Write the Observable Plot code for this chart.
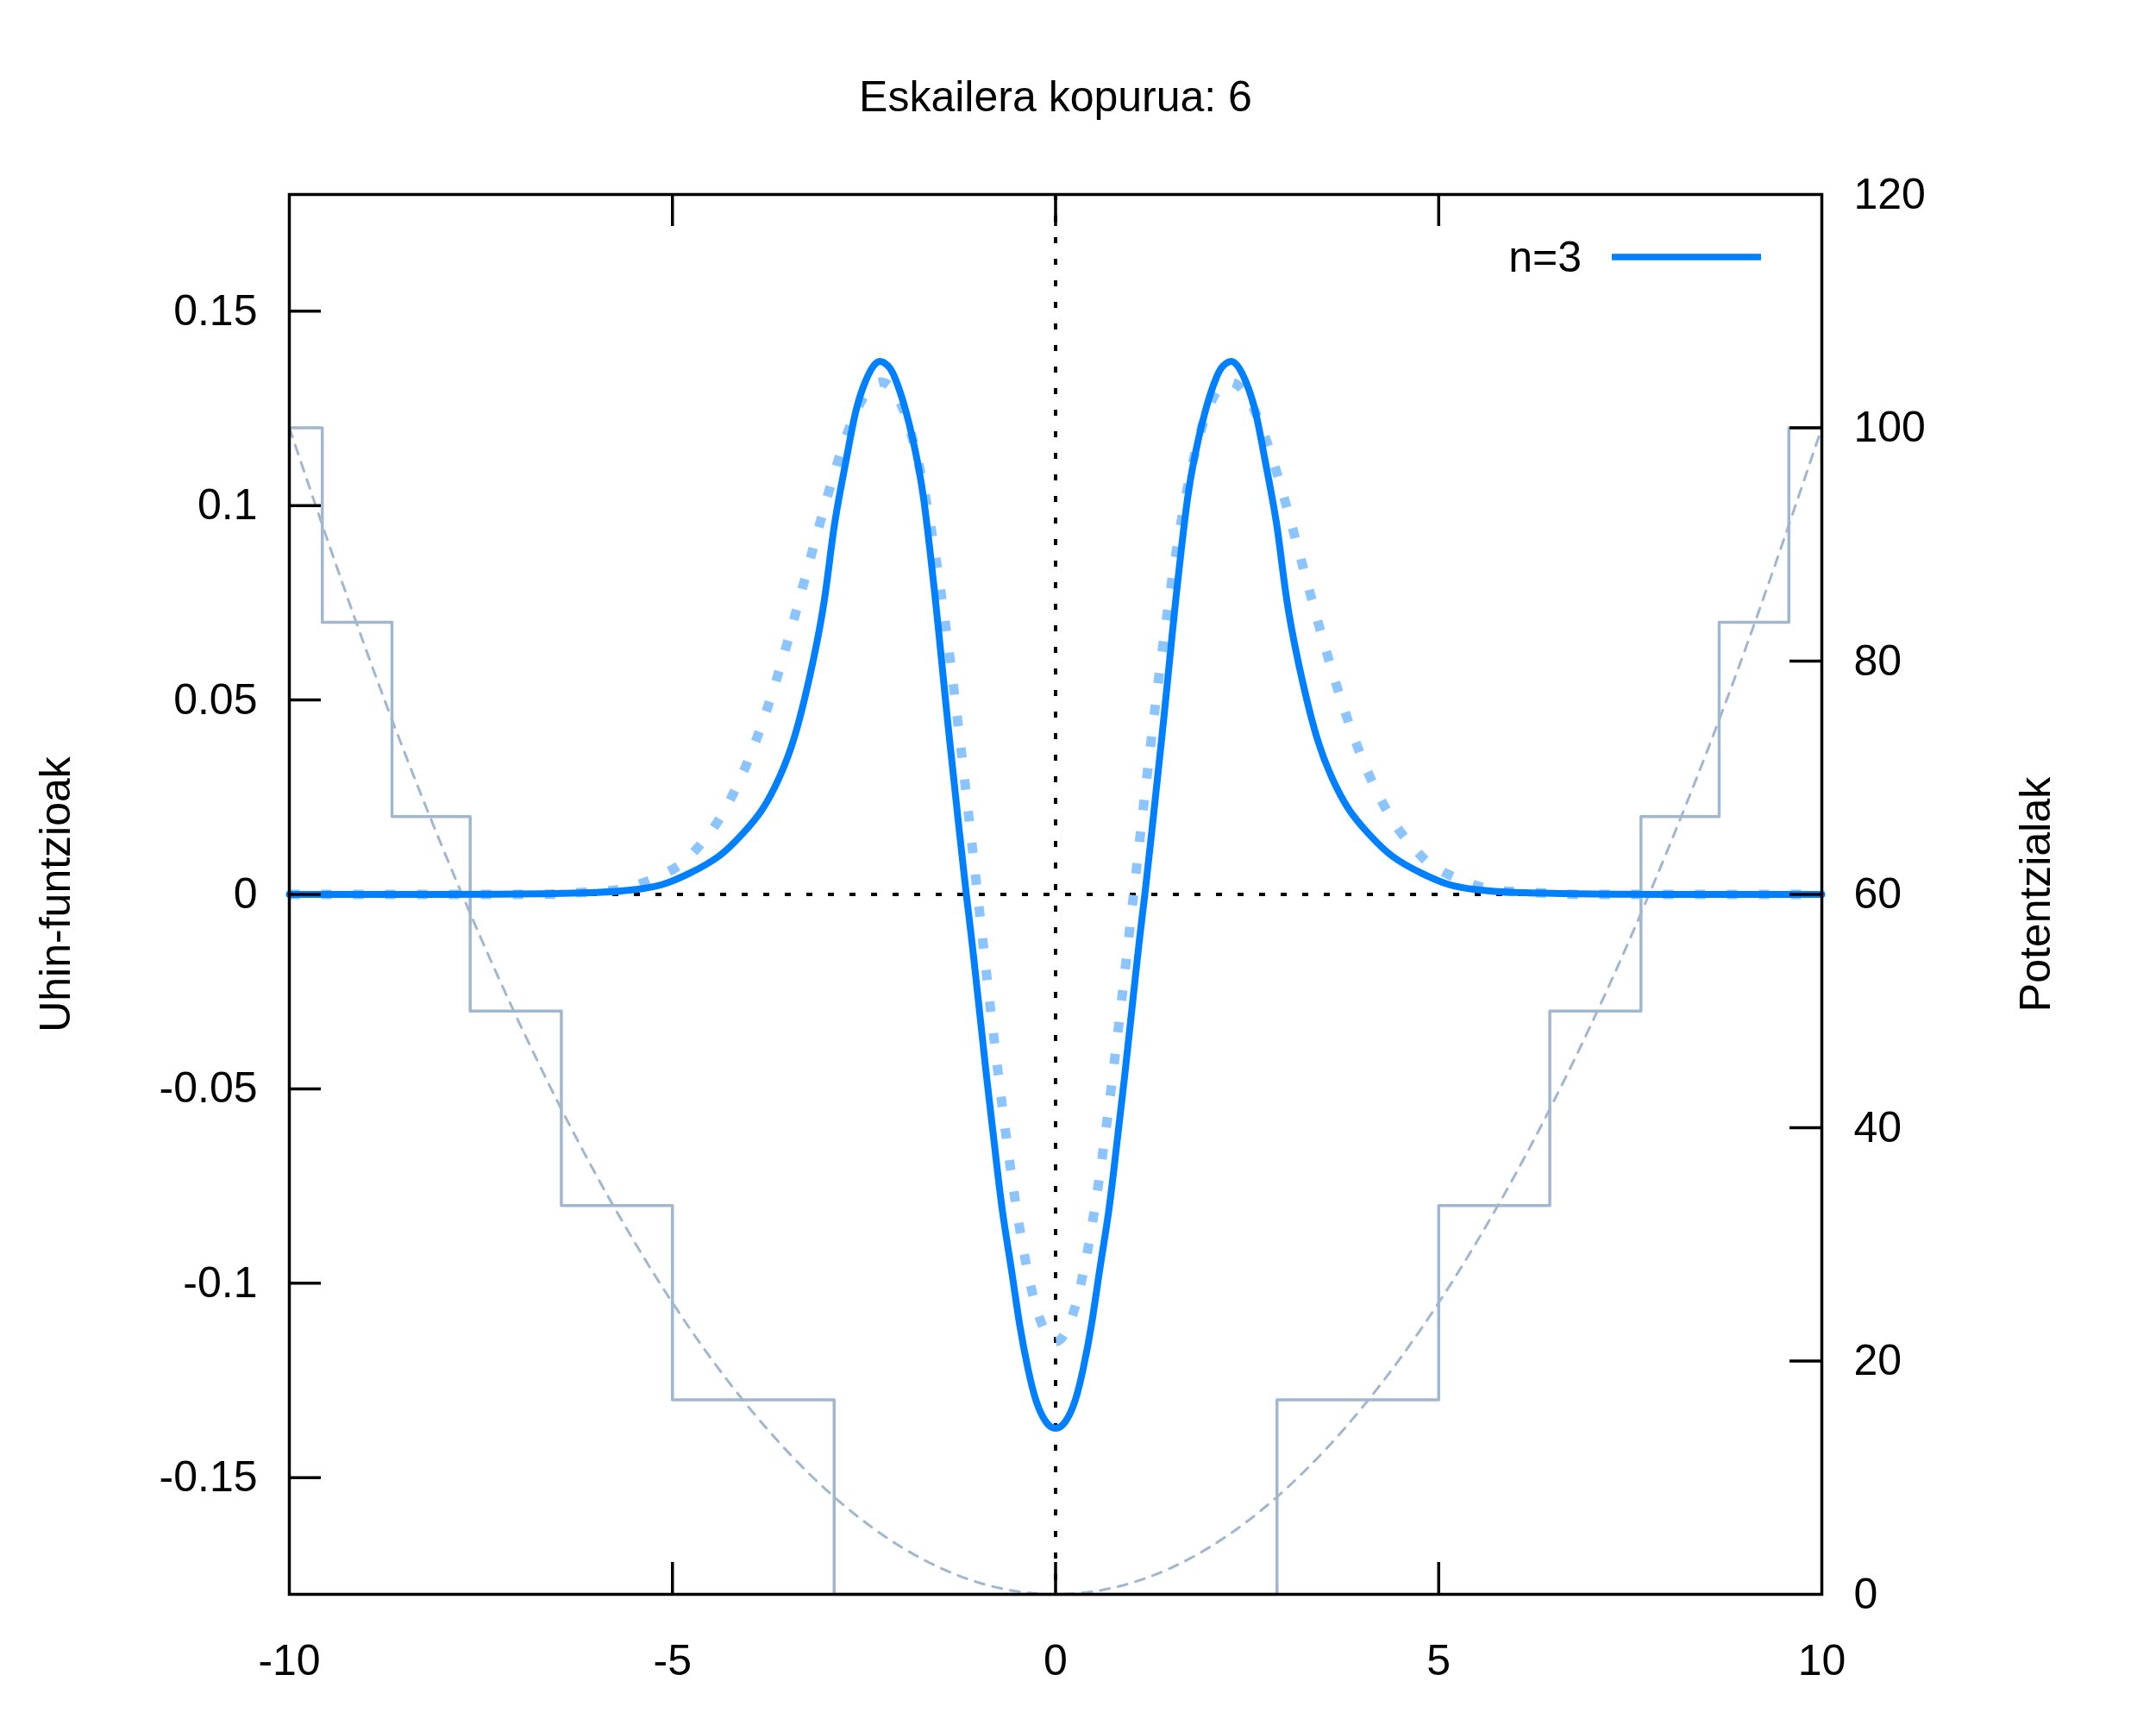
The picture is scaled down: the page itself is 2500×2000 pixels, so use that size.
<!DOCTYPE html>
<html><head><meta charset="utf-8">
<script src="https://cdn.jsdelivr.net/npm/d3@7"></script>
<script src="https://cdn.jsdelivr.net/npm/@observablehq/plot@0.6"></script>
<style>
html,body{margin:0;padding:0;background:#fff;}
#wrap{position:relative;width:2500px;height:2000px;}
#legend{position:absolute;left:0;top:0;pointer-events:none;}
</style></head><body><div id="wrap"></div>
<script>
// ---- texts ----
const title = "Eskailera kopurua: 6";
const leftLabel = "Uhin-funtzioak";
const rightLabel = "Potentzialak";
const legendLabel = "n=3";

// ---- axes ----
const xDomain = [-10, 10];
const xTicks = [-10, -5, 0, 5, 10];
const psiDomain = [-0.18, 0.18];
const psiTicks = [-0.15, -0.1, -0.05, 0, 0.05, 0.1, 0.15];
const potDomain = [0, 120];
const potTicks = [0, 20, 40, 60, 80, 100, 120];

// ---- wavefunction n=3 in the stair potential (solid) ----
const solidX = [-10, -8, -7, -6, -5.5, -5.14, -4.77, -4.39, -4.09, -3.83, -3.6, -3.4, -3.2, -3.02, -2.89, -2.74, -2.61, -2.48, -2.38, -2.29, -2.19, -2.1, -1.95, -1.8, -1.7, -1.6, -1.52, -1.39, -1.26, -1.165, -1.07, -0.9, -0.8, -0.7, -0.58, -0.47, -0.36, -0.25, -0.12,
  0,
  0.12, 0.25, 0.36, 0.47, 0.58, 0.7, 0.8, 0.9, 1.07, 1.165, 1.26, 1.39, 1.52, 1.6, 1.7, 1.8, 1.95, 2.1, 2.19, 2.29, 2.38, 2.48, 2.61, 2.74, 2.89, 3.02, 3.2, 3.4, 3.6, 3.83, 4.09, 4.39, 4.77, 5.14, 5.5, 6, 7, 8, 10];
const solidY = [0, 0, 0.0001, 0.0005, 0.0012, 0.0025, 0.0055, 0.0099, 0.0155, 0.0218, 0.0303, 0.041, 0.0568, 0.0754, 0.0945, 0.111, 0.124, 0.132, 0.1358, 0.1371, 0.136, 0.133, 0.124, 0.111, 0.0985, 0.0815, 0.0665, 0.041, 0.017, 0, -0.016, -0.047, -0.064, -0.0805, -0.096, -0.1105, -0.122, -0.1305, -0.1358,
  -0.1373,
  -0.1358, -0.1305, -0.122, -0.1105, -0.096, -0.0805, -0.064, -0.047, -0.016, 0, 0.017, 0.041, 0.0665, 0.0815, 0.0985, 0.111, 0.124, 0.133, 0.136, 0.1371, 0.1358, 0.132, 0.124, 0.111, 0.0945, 0.0754, 0.0568, 0.041, 0.0303, 0.0218, 0.0155, 0.0099, 0.0055, 0.0025, 0.0012, 0.0005, 0.0001, 0, 0];

// ---- harmonic-oscillator n=3 reference (dotted) ----
const hoX = [-10, -7, -6.5, -6, -5.5, -5, -4.75, -4.5, -4.25, -4, -3.75, -3.5, -3.25, -3, -2.75, -2.5, -2.25, -2, -1.75, -1.5, -1.25, -1, -0.75, -0.5, -0.25,
  0,
  0.25, 0.5, 0.75, 1, 1.25, 1.5, 1.75, 2, 2.25, 2.5, 2.75, 3, 3.25, 3.5, 3.75, 4, 4.25, 4.5, 4.75, 5, 5.5, 6, 6.5, 7, 10];
const hoY = [0, 0, 0.0002, 0.0007, 0.0022, 0.0064, 0.0103, 0.0161, 0.0242, 0.035, 0.0486, 0.0648, 0.0827, 0.1008, 0.1168, 0.1281, 0.1317, 0.1253, 0.1074, 0.0783, 0.0401, -0.0032, -0.0459, -0.0821, -0.1064,
  -0.115,
  -0.1064, -0.0821, -0.0459, -0.0032, 0.0401, 0.0783, 0.1074, 0.1253, 0.1317, 0.1281, 0.1168, 0.1008, 0.0827, 0.0648, 0.0486, 0.035, 0.0242, 0.0161, 0.0103, 0.0064, 0.0022, 0.0007, 0.0002, 0, 0];

// ---- stair potential (6 steps) ----
const stepX = [-10, -9.57, -8.66, -7.64, -6.45, -5, -2.89, 2.89, 5, 6.45, 7.64, 8.66, 9.57, 10];
const stepV = [100, 83.33, 66.67, 50, 33.33, 16.67, 0, 16.67, 33.33, 50, 66.67, 83.33, 100, 100];

// ---- harmonic potential (dashed) ----
const parabX = [-10, -9, -8, -7, -6, -5, -4, -3, -2, -1, 0, 1, 2, 3, 4, 5, 6, 7, 8, 9, 10];
const parabV = [100, 81, 64, 49, 36, 25, 16, 9, 4, 1, 0, 1, 4, 9, 16, 25, 36, 49, 64, 81, 100];

// ---- build tables ----
const solid = solidX.map((x, i) => ({x, y: solidY[i]}));
const ho = hoX.map((x, i) => ({x, y: hoY[i]}));
const steps = stepX.map((x, i) => ({x, v: stepV[i]}));
const parab = parabX.map((x, i) => ({x, v: parabV[i]}));

// potential axis mapped onto wavefunction axis
const k = (psiDomain[1] - psiDomain[0]) / (potDomain[1] - potDomain[0]);
const toPsi = v => psiDomain[0] + (v - potDomain[0]) * k;
const toPot = y => potDomain[0] + (y - psiDomain[0]) / k;

// ---- layout ----
const W = 2500, H = 2000;
const mL = 335, mR = 388, mT = 225, mB = 152;
const fw = W - mL - mR, fh = H - mT - mB;
const tick = 37;
const font = "'Liberation Sans', Arial, Helvetica, sans-serif";

const blue = "#0080ff";
const lightBlue = "#8cc4ff";
const potColor = "#a0b7cf";

const chart = Plot.plot({
  width: W, height: H,
  marginLeft: mL, marginRight: mR, marginTop: mT, marginBottom: mB,
  style: {fontFamily: font, fontSize: "50px", background: "white", color: "black"},
  x: {domain: xDomain},
  y: {domain: psiDomain},
  marks: [
    // zero axes
    Plot.ruleY([0], {stroke: "black", strokeWidth: 4, strokeDasharray: "7,18"}),
    Plot.ruleX([0], {stroke: "black", strokeWidth: 4, strokeDasharray: "7,18"}),
    // potentials
    Plot.line(parab, {x: "x", y: d => toPsi(d.v), curve: "natural", stroke: potColor, strokeWidth: 3, strokeDasharray: "11,10"}),
    Plot.line(steps, {x: "x", y: d => toPsi(d.v), curve: "step-after", stroke: potColor, strokeWidth: 3.5}),
    // wavefunctions
    Plot.line(ho, {x: "x", y: "y", curve: "natural", stroke: lightBlue, strokeWidth: 11, strokeDasharray: "12,25", strokeLinecap: "butt"}),
    Plot.line(solid, {x: "x", y: "y", curve: "natural", stroke: blue, strokeWidth: 8, strokeLinejoin: "round"}),
    // inward ticks
    Plot.tickY(psiTicks, {y: d => d, insetRight: fw - tick, stroke: "black", strokeWidth: 3.5}),
    Plot.tickY(potTicks.slice(1, -1).map(toPsi), {y: d => d, insetLeft: fw - tick, stroke: "black", strokeWidth: 3.5}),
    Plot.tickX(xTicks.slice(1, -1), {x: d => d, insetTop: fh - tick, stroke: "black", strokeWidth: 3.5}),
    Plot.tickX(xTicks.slice(1, -1), {x: d => d, insetBottom: fh - tick, stroke: "black", strokeWidth: 3.5}),
    // axes labels
    Plot.axisX(xTicks, {anchor: "bottom", tickSize: 0, tickPadding: 58, tickFormat: d => String(d), label: null}),
    Plot.axisY(psiTicks, {anchor: "left", tickSize: 0, tickPadding: 37, tickFormat: d => String(d), label: null}),
    Plot.axisY(potTicks.map(toPsi), {anchor: "right", tickSize: 0, tickPadding: 37, tickFormat: d => String(Math.round(toPot(d))), label: null}),
    Plot.frame({stroke: "black", strokeWidth: 3.5}),
    // title and axis titles
    Plot.text([title], {text: d => d, frameAnchor: "top", dy: -113, fontSize: 50, textAnchor: "middle", lineAnchor: "middle"}),
    Plot.text([leftLabel], {text: d => d, frameAnchor: "left", dx: -271, rotate: -90, fontSize: 50, textAnchor: "middle", lineAnchor: "middle"}),
    Plot.text([rightLabel], {text: d => d, frameAnchor: "right", dx: 248, rotate: -90, fontSize: 50, textAnchor: "middle", lineAnchor: "middle"})
  ]
});

const wrap = document.getElementById("wrap");
wrap.appendChild(chart);

// legend (inside the frame, top-right)
const ns = "http://www.w3.org/2000/svg";
const lg = document.createElementNS(ns, "svg");
lg.setAttribute("id", "legend");
lg.setAttribute("width", W);
lg.setAttribute("height", H);
const ly = mT + 73;
const lineX2 = W - mR - 70, lineX1 = lineX2 - 173;
const t = document.createElementNS(ns, "text");
t.setAttribute("x", lineX1 - 35);
t.setAttribute("y", ly);
t.setAttribute("text-anchor", "end");
t.setAttribute("dominant-baseline", "central");
t.setAttribute("font-family", font);
t.setAttribute("font-size", "50");
t.textContent = legendLabel;
lg.appendChild(t);
const l = document.createElementNS(ns, "line");
l.setAttribute("x1", lineX1); l.setAttribute("x2", lineX2);
l.setAttribute("y1", ly); l.setAttribute("y2", ly);
l.setAttribute("stroke", blue); l.setAttribute("stroke-width", 7.5);
lg.appendChild(l);
wrap.appendChild(lg);
</script></body></html>
